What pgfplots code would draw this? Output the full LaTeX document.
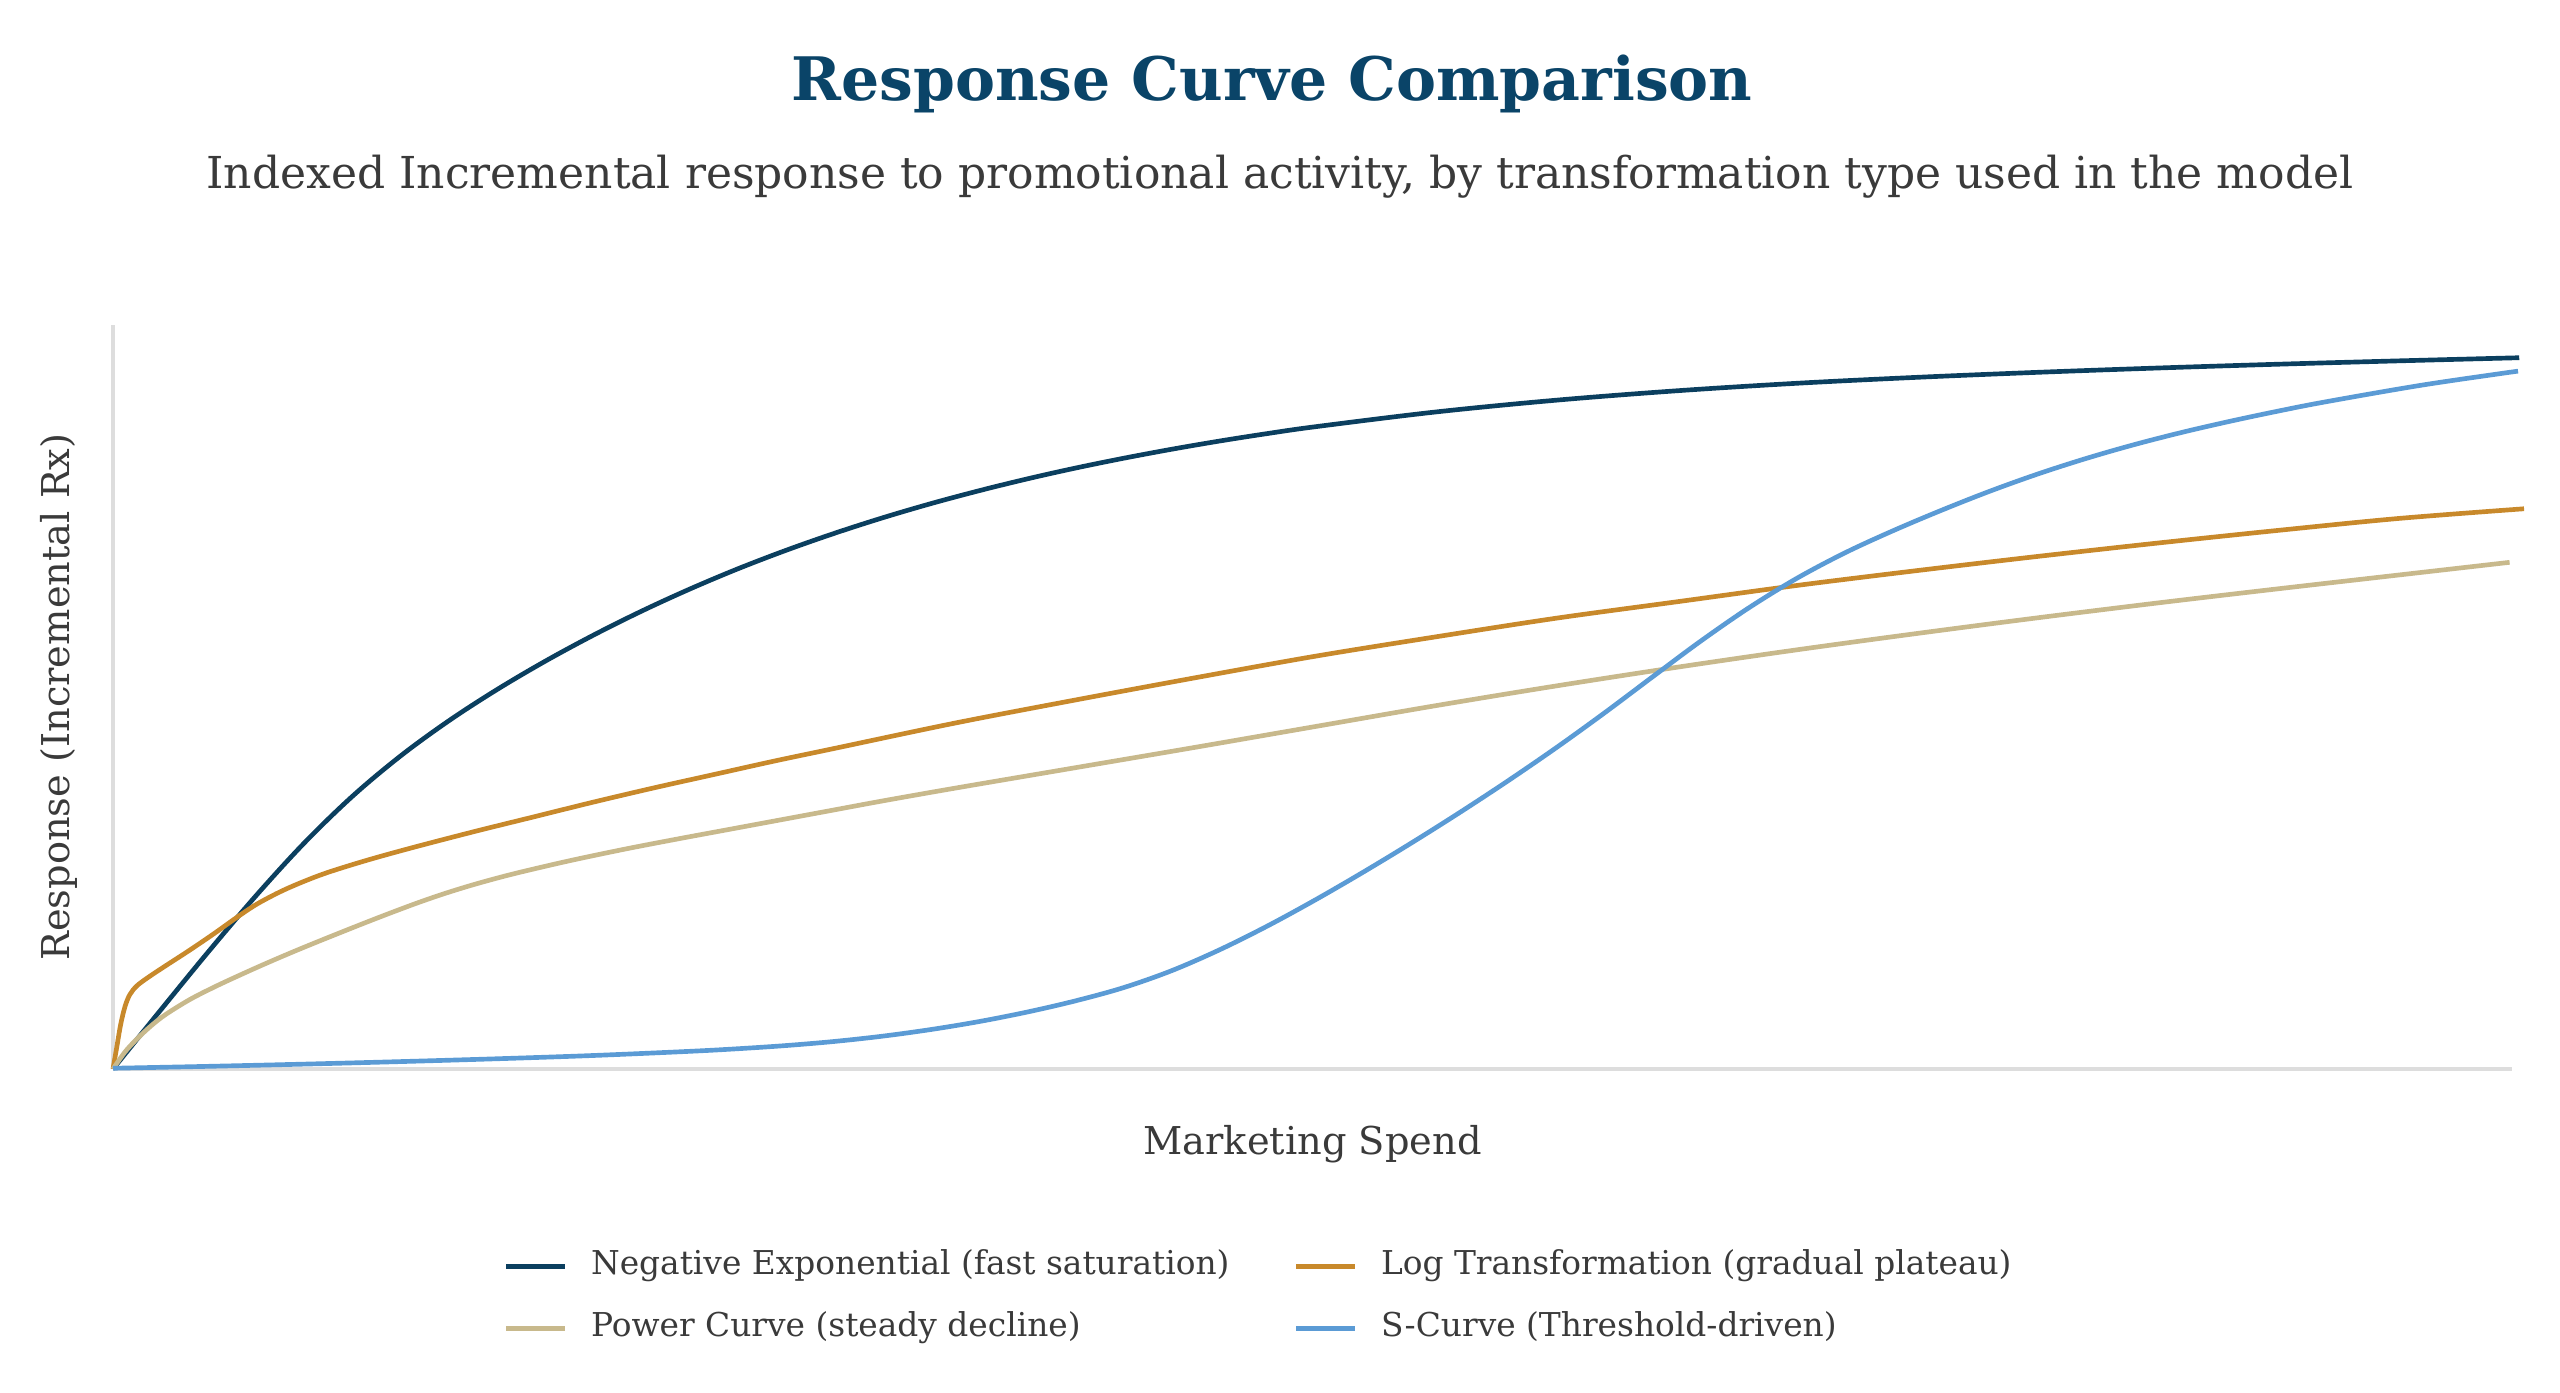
\documentclass[border=0pt]{standalone}
\usepackage{pgfplots}
\pgfplotsset{compat=1.18}
\usepackage{pgfplotstable}
\usepackage{fontspec}
\setmainfont{DejaVu Serif}
\definecolor{navy}{HTML}{0B3F5F}
\definecolor{titlec}{HTML}{0A4468}
\definecolor{orangec}{HTML}{C8892B}
\definecolor{tanc}{HTML}{C8B98C}
\definecolor{bluec}{HTML}{5B9BD5}
\definecolor{txt}{HTML}{3A3A3A}
\definecolor{axc}{HTML}{DDDDDD}

\pgfplotstableread{
x y
0 0
2 8.0
4 15.9
6 23.5
8 30.55
10 36.8
12 42.2
14 46.9
16 51.08
18 54.88
20 58.37
22 61.59
24 64.55
26 67.27
28 69.75
30 72.02
32 74.10
34 76.00
36 77.73
38 79.32
40 80.77
42 82.09
44 83.30
46 84.41
48 85.42
50 86.34
55 88.32
60 89.90
65 91.16
70 92.17
75 92.97
80 93.64
85 94.22
90 94.73
95 95.18
100 95.6
}\negexp

\pgfplotstableread{
x y
0 0
0.16 3.0
0.32 6.0
0.5 8.4
0.7 10.0
1.0 11.2
1.5 12.4
2.2 13.9
3.2 16.0
4.2 18.2
5.2 20.5
6.0 22.2
7.0 23.9
8.0 25.3
9.0 26.5
10.6 28.1
12.5 29.8
15.0 31.9
17.5 33.9
20 35.9
22.5 37.8
25 39.6
27.5 41.4
30 43.1
35 46.5
40 49.6
45 52.6
50 55.5
55 58.1
60 60.6
65 62.8
70 65.0
75 67.0
80 68.9
85 70.7
90 72.4
95 74.0
100.2 75.3
}\logt

\pgfplotstableread{
x y
0 0
0.5 2.3
1.0 4.05
1.6 5.85
2.2 7.35
3.2 9.35
4.25 11.08
5.3 12.66
6.38 14.22
7.5 15.77
8.5 17.10
9.5 18.40
10.6 19.81
11.7 21.18
12.76 22.45
13.8 23.60
14.9 24.70
16 25.69
17 26.51
19 28.01
21.3 29.57
23.5 30.94
25.5 32.14
27.5 33.34
29.8 34.72
32 36.04
35 37.75
40 40.50
45 43.25
50 46.05
55 48.85
60 51.50
65 54.0
70 56.35
75 58.55
80 60.65
85 62.65
90 64.55
95 66.40
99.6 68.1
}\powc

\pgfplotstableread{
x y
0 0.1
4 0.36
8 0.66
12 1.0
16 1.38
20 1.82
24 2.38
26 2.73
28 3.16
30 3.71
32 4.42
34 5.31
36 6.38
38 7.66
40 9.16
42 10.94
44 13.22
46 16.04
48 19.26
50 22.79
52 26.54
54 30.46
56 34.54
58 38.79
60 43.23
62 47.90
64 52.75
66 57.55
68 62.02
70 65.99
72 69.41
74 72.38
76 75.11
78 77.66
80 79.98
82 82.06
84 83.92
86 85.58
88 87.07
90 88.44
92 89.70
96 91.94
99.95 93.8
}\scurve

\newcommand{\legtxt}[1]{\makebox[217.9pt][l]{\hspace*{7pt}#1}}

\begin{document}
\begin{tikzpicture}
\useasboundingbox (-33.9pt,-96.9pt) rectangle (734.1pt,320.7pt);
\begin{axis}[
  at={(0pt,0pt)}, anchor=south west,
  scale only axis, width=719.7pt, height=223.2pt,
  xmin=0, xmax=99.7, ymin=0, ymax=100,
  clip=false,
  axis x line*=bottom, axis y line*=left,
  axis line style={draw=axc, line width=1pt, -},
  xtick=\empty, ytick=\empty,
  xlabel={Marketing Spend},
  ylabel={Response (Incremental Rx)},
  label style={font=\fontsize{11.5}{14}\selectfont, text=txt},
  xlabel style={at={(axis description cs:0.5,-0.1008)}, anchor=center},
  ylabel style={at={(axis description cs:-0.0225,0.5)}, anchor=center},
  legend columns=2,
  legend style={draw=none, fill=none, inner sep=0pt, outer sep=0pt,
    at={(axis description cs:0.163,-0.245)}, anchor=north west,
    column sep=0pt, row sep=9.6pt,
    nodes={inner sep=0pt, text height=7pt, text depth=2pt, font=\fontsize{9.85}{11}\selectfont, text=txt}},
  legend cell align=left,
  legend image code/.code={\draw[#1, line width=1.4pt] (0pt,0pt) -- (17.7pt,0pt);},
]
\addplot[navy, line width=1.4pt, smooth, tension=0.55] table[x=x,y=y] {\negexp};
\addlegendentry{\legtxt{Negative Exponential (fast saturation)}}
\addplot[orangec, line width=1.4pt, smooth, tension=0.55] table[x=x,y=y] {\logt};
\addlegendentry{\legtxt{Log Transformation (gradual plateau)}}
\addplot[tanc, line width=1.4pt, smooth, tension=0.55] table[x=x,y=y] {\powc};
\addlegendentry{\legtxt{Power Curve (steady decline)}}
\addplot[bluec, line width=1.4pt, smooth, tension=0.55] table[x=x,y=y] {\scurve};
\addlegendentry{\legtxt{S-Curve (Threshold-driven)}}
\end{axis}
\node[font=\fontsize{18}{22}\selectfont\bfseries, text=titlec, anchor=center] at (347.7pt,295.5pt) {Response Curve Comparison};
\node[font=\fontsize{13.2}{16}\selectfont, text=txt, anchor=center] at (350.1pt,267.6pt) {Indexed Incremental response to promotional activity, by transformation type used in the model};
\end{tikzpicture}
\end{document}
